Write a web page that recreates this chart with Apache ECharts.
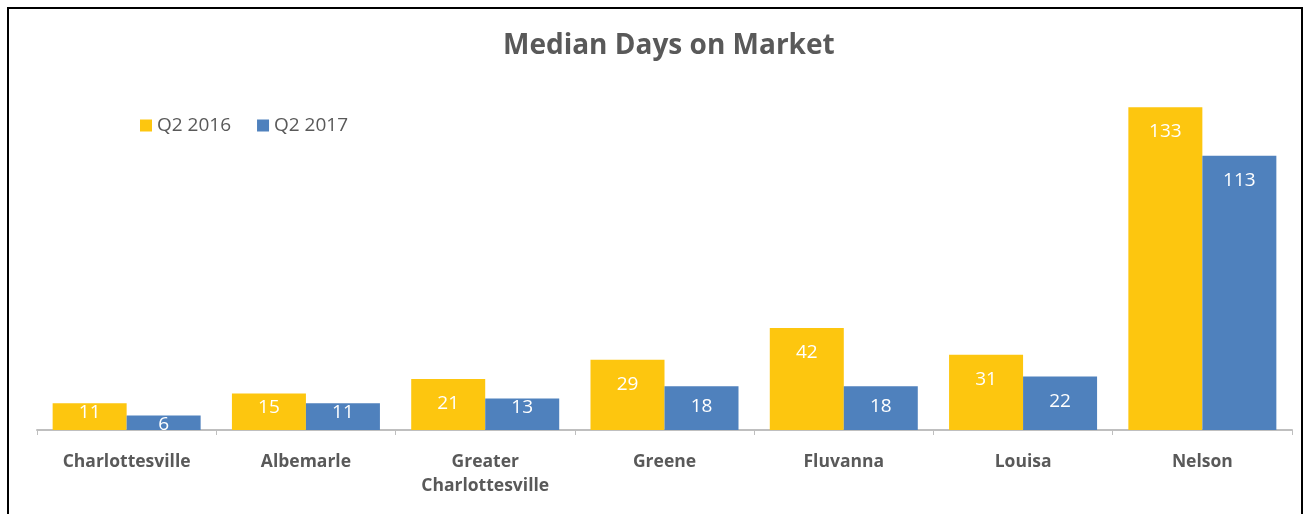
<!DOCTYPE html>
<html>
<head>
<meta charset="utf-8">
<script src="https://cdn.jsdelivr.net/npm/echarts@6/dist/echarts.min.js"></script>
<style>
  html, body { margin: 0; padding: 0; background: #fff; }
  #chartDiv { width: 1308px; height: 514px; }
</style>
</head>
<body>
<div id="chartDiv"></div>
<script>
const counties = ["Charlottesville", "Albemarle", "Greater\nCharlottesville", "Greene", "Fluvanna", "Louisa", "Nelson"];
const q2_2016 = [11, 15, 21, 29, 42, 31, 133];
const q2_2017 = [6, 11, 13, 18, 18, 22, 113];

let chart = echarts.init(document.getElementById("chartDiv"));

// Excel pushes the value label closer to the bar top when the bar is short
function withLabels(values) {
    return values.map(function (v) {
        return {
            value: v,
            label: { distance: Math.max(0, Math.min(15, (v - 13) * 2.2)) },
        };
    });
}

const labelStyle = {
    show: true,
    position: "insideTop",
    color: "#fff",
    fontSize: 19,
    lineHeight: 19,
    fontFamily: "Open Sans",
};

let options = {
    animation: false,
    title: {
        text: "Median Days on Market",
        left: 498,
        top: 27,
        textStyle: {
            color: "#595959",
            fontSize: 28,
            fontWeight: "bold",
            fontFamily: "Open Sans",
        },
    },
    legend: {
        left: 135,
        top: 111,
        itemWidth: 12,
        itemHeight: 12,
        itemGap: 26,
        icon: "rect",
        textStyle: {
            color: "#595959",
            fontSize: 19,
            fontFamily: "Open Sans",
        },
    },
    grid: {
        left: 37,
        right: 16,
        top: 66,
        bottom: 84,
    },
    xAxis: {
        type: "category",
        data: counties,
        axisLine: { lineStyle: { color: "#bfbfbf", width: 2 } },
        axisTick: { show: true, length: 5, lineStyle: { color: "#bfbfbf" } },
        axisLabel: {
            color: "#595959",
            fontSize: 17.5,
            fontWeight: "bold",
            fontFamily: "Open Sans",
            margin: 20,
            lineHeight: 24,
        },
    },
    yAxis: {
        type: "value",
        min: 0,
        max: 150,
        show: false,
    },
    series: [
        {
            name: "Q2 2016",
            type: "bar",
            data: withLabels(q2_2016),
            barWidth: 74,
            barGap: "0%",
            itemStyle: { color: "#fdc60f" },
            label: labelStyle,
        },
        {
            name: "Q2 2017",
            type: "bar",
            data: withLabels(q2_2017),
            barWidth: 74,
            itemStyle: { color: "#4f81bd" },
            label: labelStyle,
        },
    ],
    graphic: [
        {
            type: "rect",
            shape: { x: 8, y: 8, width: 1294, height: 520 },
            style: { fill: null, stroke: "#000", lineWidth: 2 },
        },
    ],
};
chart.setOption(options);
</script>
</body>
</html>
